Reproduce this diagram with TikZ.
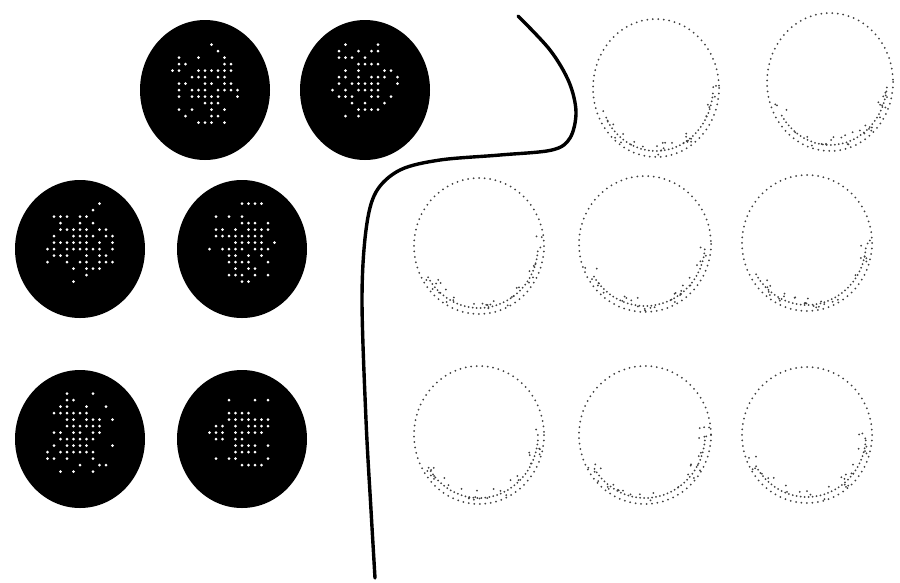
\documentclass[tikz,border=0pt]{standalone}
\begin{document}
\tikzset{
  ring/.style={draw=black!75, line width=2pt, dash pattern=on 0pt off 5.5pt, line cap=round},
  ringdense/.style={draw=black!75, line width=2pt, dash pattern=on 0pt off 4pt, line cap=round},
  whitedot/.style={fill=white},
  greydot/.style={fill=black!75},
  curveline/.style={draw=black, line width=3.4pt, line cap=round}
}
\newcommand\blackdisc[4]{%
  \fill[black] (#1,#2) ellipse [x radius=#3, y radius=#4];
  \foreach \ii in {-5,...,5}{%
    \foreach \jj in {-7,...,5}{%
      \pgfmathsetmacro\dd{sqrt((\ii/5.5)^2+((\jj+1)/6.5)^2)}%
      \pgfmathsetmacro\pp{rnd}%
      \pgfmathtruncatemacro\okdot{(\pp < 1.05-0.9*\dd) ? 1 : 0}%
      \ifnum\okdot=1 \fill[whitedot] (#1+\ii*6.5,#2+\jj*6.5) circle (1.5pt);\fi
    }%
  }%
}
\newcommand\dotring[4]{%
  \draw[ring] (#1,#2) ellipse [x radius=#3, y radius=#4];
  \draw[ringdense] (#1,#2) ++(5:{#3-6} and {#4-6}) arc [start angle=5, end angle=150, x radius=#3-6, y radius=#4-6];
  \foreach \kk in {1,...,30}{%
    \pgfmathsetmacro\aa{-10+rnd*170}%
    \pgfmathsetmacro\rr{0.8+rnd*0.18}%
    \fill[greydot] (#1,#2) ++(\aa:{#3*\rr} and {#4*\rr}) circle (1pt);
  }%
}
\begin{tikzpicture}[x=1pt,y=-1pt]
  \pgfmathsetseed{7}
  \fill[white] (0,0) rectangle (900,582);
  \useasboundingbox (0,0) rectangle (900,582);
  % black discs
  \blackdisc{205}{90}{65}{70}
  \blackdisc{365}{90}{65}{70}
  \blackdisc{80}{249}{65}{69}
  \blackdisc{242}{249}{65}{69}
  \blackdisc{80}{439}{65}{69}
  \blackdisc{242}{439}{65}{69}
  % dotted rings
  \dotring{656}{88}{63}{69}
  \dotring{830}{82}{63}{69}
  \dotring{479}{246}{65}{68}
  \dotring{645}{244}{66}{68}
  \dotring{807}{243}{65}{68}
  \dotring{479}{435}{65}{69}
  \dotring{645}{435}{66}{69}
  \dotring{807}{435}{65}{68}
  % curve
  \draw[curveline] plot[smooth, tension=0.55] coordinates {(518,16) (550,50) (569,82) (576,112) (570,138) (552,150) (500,155) (440,160) (400,170) (376,192) (366,230) (362,300) (366,420) (371,510) (375,578)};
\end{tikzpicture}
\end{document}
